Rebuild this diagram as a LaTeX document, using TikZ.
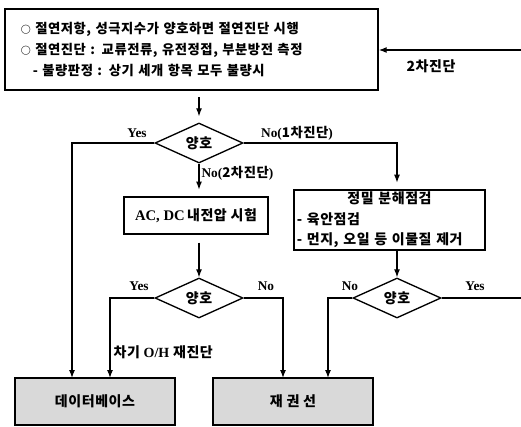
\documentclass[tikz,border=0pt]{standalone}
\usepackage{fontspec}
\setmainfont{Liberation Serif}
\newfontfamily\kr{Noto Sans CJK KR}[LetterSpace=4]
\usetikzlibrary{shapes.geometric,arrows.meta}
\newcommand\K[1]{{\kr\bfseries #1}}
\begin{document}
\begin{tikzpicture}[x=0.75pt,y=-0.75pt,
  line width=0.9pt,
  >={Latex[length=6pt,width=4.5pt]},
  box/.style={draw, line width=1.1pt, inner sep=0pt},
  shaded/.style={box, fill=black!15},
  dec/.style={diamond, draw, line width=1pt, aspect=2.2, minimum width=66pt, minimum height=30pt, inner sep=0pt, font=\kr\bfseries\fontsize{10.5}{11}\selectfont},
  kt/.style={font=\kr\bfseries\fontsize{10.5}{15.4}\selectfont},
  lab/.style={font=\bfseries\fontsize{10}{12}\selectfont, inner sep=0pt}]
\useasboundingbox (0,0) rectangle (521,426);

% boxes
\node[box, font=\kr\bfseries\fontsize{10}{15.4}\selectfont, minimum width=279.75pt, minimum height=60.75pt, text width=256pt, align=left] (top) at (191.5,49.5)
 {{\fontsize{7.5}{7.5}\selectfont ○}\ 절연저항, 성극지수가 양호하면 절연진단 시행\\
  {\fontsize{7.5}{7.5}\selectfont ○}\ 절연진단 : 교류전류, 유전정접, 부분방전 측정\\
  \hspace*{9pt}- 불량판정 : 상기 세개 항목 모두 불량시};
\node[dec] (d1) at (199,143) {양호};
\node[box, kt, minimum width=108pt, minimum height=27.75pt] (ac) at (196,215.5)
 {{\normalfont\bfseries\fontsize{11}{12}\selectfont AC, DC}\,내전압 시험};
\node[box, kt, minimum width=143.25pt, minimum height=45pt, text width=139pt, align=left] (jm) at (389.5,220)
 {\makebox[\linewidth]{정밀 분해점검}\\
  - 육안점검\\
  - 먼지, 오일 등 이물질 제거};
\node[dec] (d2) at (199,298) {양호};
\node[dec] (d3) at (397,298) {양호};
\node[shaded, minimum width=120pt, minimum height=35.25pt, font=\kr\bfseries\fontsize{10.5}{12}\selectfont] (db) at (95,401.5) {데이터베이스};
\node[shaded, minimum width=120pt, minimum height=35.25pt, font=\kr\bfseries\fontsize{10.5}{12}\selectfont] (rw) at (293,401.5) {재 권 선};

% free ends
\coordinate (re) at (521,50);
\coordinate (le) at (521,298);
\coordinate (c1) at (72,378);
\coordinate (c2) at (397,190);
\coordinate (c3) at (110,378);
\coordinate (c4) at (283,378);
\coordinate (c5) at (328,378);

% connectors
\draw[->] (re) -- (re -| top.east);
\draw[->, shorten <=5pt, shorten >=4.5pt] (top.south -| d1.north) -- (d1.north);
\draw[->] (d1.west) -| (c1);
\draw[->, shorten >=5.5pt] (d1.east) -| (c2);
\draw[->, shorten >=5pt] (d1.south) -- (d1.south |- ac.north);
\draw[->, shorten <=6pt] (d2.north |- ac.south) -- (d2.north);
\draw[->] (d2.west) -| (c3);
\draw[->] (d2.east) -| (c4);
\draw[->] (d3.north |- jm.south) -- (d3.north);
\draw[->] (d3.west) -| (c5);
\draw (d3.east) -- (le);

% labels
\node[kt] (l2) at (431,66) {2차진단};
\node[lab] (y1) at (137,133) {Yes};
\node[lab] (n1) at (297,133) {No(\K{1차진단})};
\node[lab, anchor=west] (n2) at (201,173) {No(\K{2차진단})};
\node[lab] (y2) at (139,286) {Yes};
\node[lab] (n3) at (266,286) {No};
\node[lab] (n4) at (350,286) {No};
\node[lab] (y3) at (475,286) {Yes};
\node[kt, anchor=west, inner sep=0pt] (oh) at (113,352) {차기 {\normalfont\bfseries O/H} 재진단};
\end{tikzpicture}
\end{document}
